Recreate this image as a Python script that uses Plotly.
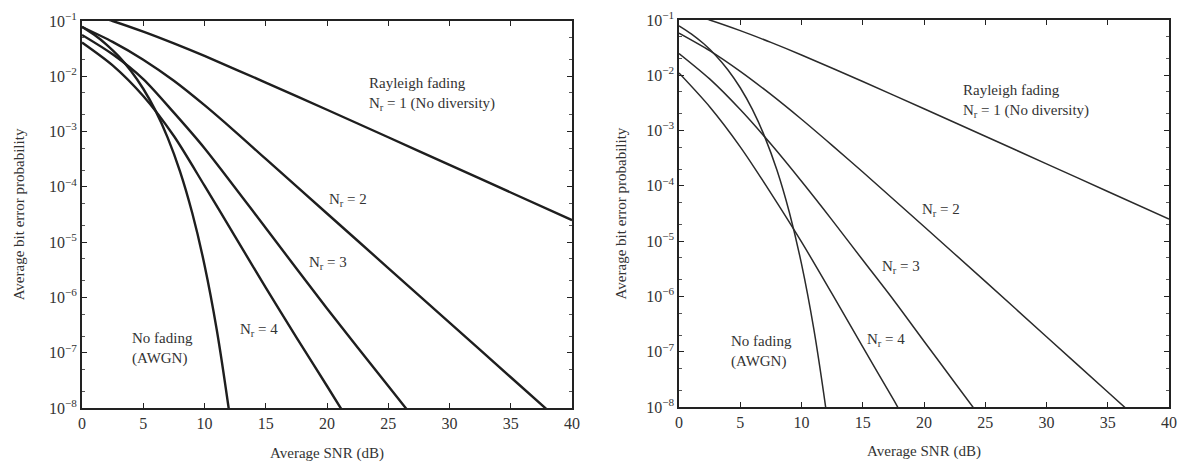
import plotly.graph_objects as go

# ---------------- data ----------------
# Left panel
snr_awgn = [0, 1, 2, 3, 4, 5, 6, 7, 8, 9, 10, 11, 12, 12.5]
ber_awgn = [7.86e-2, 5.63e-2, 3.75e-2, 2.29e-2, 1.25e-2, 5.95e-3, 2.39e-3,
            7.7e-4, 1.91e-4, 3.36e-5, 3.87e-6, 2.61e-7, 9.0e-9, 1.3e-9]

snr_nr1 = [0, 2.5, 5, 7.5, 10, 15, 20, 25, 30, 35, 40]
ber_nr1 = [0.146, 0.1, 6.42e-2, 3.93e-2, 2.33e-2, 7.7e-3, 2.48e-3, 7.9e-4,
           2.5e-4, 7.9e-5, 2.5e-5]

left_snr_nr2 = [0, 2.5, 5, 7.5, 10, 12.5, 15, 20, 25, 30, 35, 40]
left_ber_nr2 = [7.8e-2, 4.2e-2, 2.0e-2, 8.3e-3, 3.0e-3, 1.0e-3, 3.2e-4,
                3.3e-5, 3.4e-6, 3.5e-7, 3.6e-8, 3.7e-9]

left_snr_nr3 = [0, 2.5, 5, 7.5, 10, 15, 20, 25, 30]
left_ber_nr3 = [5.6e-2, 2.5e-2, 8.9e-3, 2.2e-3, 5.0e-4, 1.8e-5, 6.3e-7, 2.5e-8, 1e-9]

left_snr_nr4 = [0, 2.5, 5, 7.5, 10, 12.5, 15, 17.5, 20, 22.5]
left_ber_nr4 = [4.1e-2, 1.58e-2, 4.4e-3, 8.3e-4, 1.05e-4, 1.26e-5, 1.5e-6,
                1.9e-7, 2.5e-8, 3.2e-9]

# Right panel
right_snr_nr2 = [0, 2.5, 5, 7.5, 10, 12.5, 15, 20, 25, 30, 35, 40]
right_ber_nr2 = [5.8e-2, 2.8e-2, 1.18e-2, 4.5e-3, 1.6e-3, 5.4e-4, 1.78e-4,
                 1.84e-5, 1.87e-6, 1.87e-7, 1.87e-8, 1.87e-9]

right_snr_nr3 = [0, 2.5, 5, 7.5, 10, 12.5, 15, 17.5, 20, 22.5, 25]
right_ber_nr3 = [2.48e-2, 8.6e-3, 2.4e-3, 5.7e-4, 1.21e-4, 2.4e-5, 4.55e-6,
                 8.7e-7, 1.55e-7, 2.78e-8, 5.0e-9]

right_snr_nr4 = [0, 2.5, 5, 7.5, 10, 12.5, 15, 17.5, 18.5]
right_ber_nr4 = [1.1e-2, 2.7e-3, 5.08e-4, 7.4e-5, 9.7e-6, 1.11e-6, 1.22e-7,
                 1.37e-8, 5.5e-9]

x_ticks = [0, 5, 10, 15, 20, 25, 30, 35, 40]
y_tickvals = [1e-1, 1e-2, 1e-3, 1e-4, 1e-5, 1e-6, 1e-7, 1e-8]
y_ticktext = ["10<sup>−1</sup>", "10<sup>−2</sup>", "10<sup>−3</sup>", "10<sup>−4</sup>",
              "10<sup>−5</sup>", "10<sup>−6</sup>", "10<sup>−7</sup>", "10<sup>−8</sup>"]

# ---------------- figure ----------------
FONT = "Liberation Serif"
W, H = 1183, 463

fig = go.Figure()

left_series = [(snr_nr1, ber_nr1), (left_snr_nr2, left_ber_nr2),
               (left_snr_nr3, left_ber_nr3), (left_snr_nr4, left_ber_nr4),
               (snr_awgn, ber_awgn)]
right_series = [(snr_nr1, ber_nr1), (right_snr_nr2, right_ber_nr2),
                (right_snr_nr3, right_ber_nr3), (right_snr_nr4, right_ber_nr4),
                (snr_awgn, ber_awgn)]

for xs, ys in left_series:
    fig.add_trace(go.Scatter(x=xs, y=ys, mode="lines", xaxis="x", yaxis="y",
                             line=dict(color="#1e1e1e", width=2.4, shape="spline", smoothing=0.8),
                             showlegend=False, hoverinfo="skip"))
for xs, ys in right_series:
    fig.add_trace(go.Scatter(x=xs, y=ys, mode="lines", xaxis="x2", yaxis="y2",
                             line=dict(color="#2a2a2a", width=1.5, shape="spline", smoothing=0.8),
                             showlegend=False, hoverinfo="skip"))

def xaxis(domain, anchor, lw):
    return dict(domain=domain, anchor=anchor, range=[0, 40], tickvals=x_ticks,
                ticks="inside", ticklen=5, tickcolor="#222", tickwidth=1.2,
                showline=True, linecolor="#222", linewidth=lw, mirror="allticks",
                showgrid=False, zeroline=False, automargin=False,
                tickfont=dict(family=FONT, size=16, color="#333"),
                title=dict(text="Average SNR (dB)", standoff=16,
                           font=dict(family=FONT, size=15, color="#333")))

def yaxis(domain, anchor, lw, standoff):
    return dict(domain=domain, anchor=anchor, type="log", range=[-8, -1],
                tickvals=y_tickvals, ticktext=y_ticktext,
                ticks="inside", ticklen=5, tickcolor="#222", tickwidth=1.2,
                minor=dict(ticks="inside", ticklen=3, tickcolor="#555", tickwidth=0.8, showgrid=False),
                showline=True, linecolor="#222", linewidth=lw, mirror="allticks",
                showgrid=False, zeroline=False, automargin=False,
                tickfont=dict(family=FONT, size=16, color="#333"),
                title=dict(text="Average bit error probability", standoff=standoff,
                           font=dict(family=FONT, size=15, color="#333")))

def xd(a, b):
    return [a / W, b / W]

def yd(top, bottom):
    return [1 - bottom / H, 1 - top / H]

fig.update_layout(
    width=W, height=H,
    margin=dict(l=0, r=0, t=0, b=0, autoexpand=False),
    paper_bgcolor="white", plot_bgcolor="white",
    xaxis=xaxis(xd(82, 572), "y", 2),
    yaxis=yaxis(yd(21, 408), "x", 2, 21),
    xaxis2=xaxis(xd(679, 1169), "y2", 1.5),
    yaxis2=yaxis(yd(20, 407), "x2", 1.5, 16),
)

ann_font = dict(family=FONT, size=15, color="#333")
def ann(xref, yref, x, y, text):
    fig.add_annotation(xref=xref, yref=yref, x=x, y=y, text=text, showarrow=False,
                       xanchor="left", yanchor="middle", align="left", font=ann_font)

ann("x", "y", 23.3, -2.32, "Rayleigh fading<br>N<sub>r</sub> = 1 (No diversity)")
ann("x", "y", 20.0, -4.24, "N<sub>r</sub> = 2")
ann("x", "y", 18.4, -5.37, "N<sub>r</sub> = 3")
ann("x", "y", 12.7, -6.59, "N<sub>r</sub> = 4")
ann("x", "y", 3.9, -6.92, "No fading<br>(AWGN)")

ann("x2", "y2", 23.0, -2.47, "Rayleigh fading<br>N<sub>r</sub> = 1 (No diversity)")
ann("x2", "y2", 19.7, -4.44, "N<sub>r</sub> = 2")
ann("x2", "y2", 16.4, -5.47, "N<sub>r</sub> = 3")
ann("x2", "y2", 15.2, -6.79, "N<sub>r</sub> = 4")
ann("x2", "y2", 4.1, -7.0, "No fading<br>(AWGN)")

fig.write_html("out.html",
               config={"displayModeBar": False},
               post_script="document.body.style.margin='0';"
                           "document.documentElement.style.overflow='hidden';")
